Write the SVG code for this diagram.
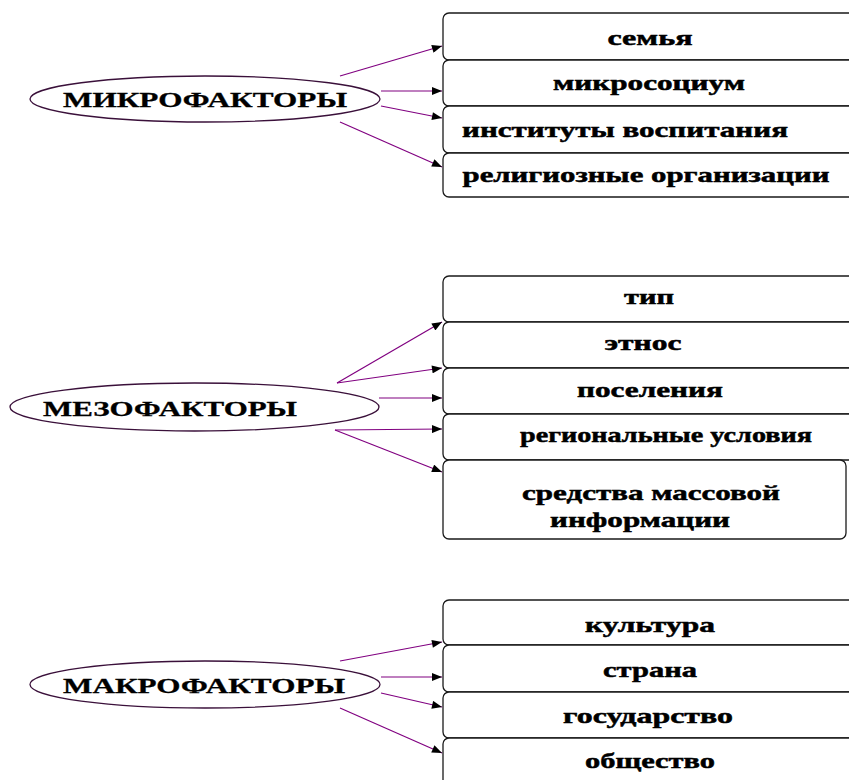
<svg xmlns="http://www.w3.org/2000/svg" width="849" height="780" viewBox="0 0 849 780">
<style>
.box{fill:#fff;stroke:#1a1a1a;stroke-width:1.3}
.ell{fill:#fff;stroke:#3a103a;stroke-width:1.3}
.t{font-family:"Liberation Serif","Times New Roman",serif;font-weight:bold;font-size:22px;fill:#000;stroke:#000;stroke-width:0.5;text-anchor:middle}
.h{font-family:"Liberation Serif","Times New Roman",serif;font-weight:bold;font-size:22px;fill:#000;stroke:#000;stroke-width:0.3;text-anchor:middle}
.c{stroke:#800080;stroke-width:1.2;fill:none;marker-end:url(#ah)}
</style>
<defs>
<marker id="ah" viewBox="0 0 10 8" refX="10" refY="4" markerWidth="11" markerHeight="8" markerUnits="userSpaceOnUse" orient="auto">
<path d="M0,0 L10,4 L0,8 Z" fill="#000"/>
</marker>
</defs>
<rect width="849" height="780" fill="#fff"/>

<g id="micro">
<g id="micro-center"><ellipse class="ell" cx="205" cy="99" rx="175" ry="23"/><text class="h" x="205" y="107" textLength="284" lengthAdjust="spacingAndGlyphs">МИКРОФАКТОРЫ</text></g>
<g id="m1"><rect class="box" x="443" y="13" width="412" height="47" rx="6"/><text class="t" x="650" y="45" textLength="85" lengthAdjust="spacingAndGlyphs">семья</text></g>
<g id="m2"><rect class="box" x="443" y="60" width="412" height="46" rx="6"/><text class="t" x="649" y="90" textLength="192" lengthAdjust="spacingAndGlyphs">микросоциум</text></g>
<g id="m3"><rect class="box" x="443" y="106" width="412" height="47" rx="6"/><text class="t" x="625" y="137" textLength="326" lengthAdjust="spacingAndGlyphs">институты воспитания</text></g>
<g id="m4"><rect class="box" x="443" y="153" width="412" height="44" rx="6"/><text class="t" x="646" y="182" textLength="367" lengthAdjust="spacingAndGlyphs">религиозные организации</text></g>
</g>

<g id="meso">
<g id="meso-center"><ellipse class="ell" cx="194.5" cy="407" rx="184.5" ry="24"/><text class="h" x="170" y="416" textLength="254" lengthAdjust="spacingAndGlyphs">МЕЗОФАКТОРЫ</text></g>
<g id="s1"><rect class="box" x="443" y="276" width="412" height="46" rx="6"/><text class="t" x="649" y="304" textLength="50" lengthAdjust="spacingAndGlyphs">тип</text></g>
<g id="s2"><rect class="box" x="443" y="322" width="412" height="46" rx="6"/><text class="t" x="643" y="350" textLength="77" lengthAdjust="spacingAndGlyphs">этнос</text></g>
<g id="s3"><rect class="box" x="443" y="368" width="412" height="46" rx="6"/><text class="t" x="650" y="397" textLength="146" lengthAdjust="spacingAndGlyphs">поселения</text></g>
<g id="s4"><rect class="box" x="443" y="414" width="412" height="46" rx="6"/><text class="t" x="666" y="442" textLength="292" lengthAdjust="spacingAndGlyphs">региональные условия</text></g>
<g id="s5"><rect class="box" x="443" y="460" width="403" height="79" rx="6"/><text class="t" x="651" y="500" textLength="258" lengthAdjust="spacingAndGlyphs">средства массовой</text><text class="t" x="640" y="527" textLength="180" lengthAdjust="spacingAndGlyphs">информации</text></g>
</g>

<g id="macro">
<g id="macro-center"><ellipse class="ell" cx="205" cy="684.5" rx="175" ry="23.5"/><text class="h" x="204" y="693" textLength="282" lengthAdjust="spacingAndGlyphs">МАКРОФАКТОРЫ</text></g>
<g id="k1"><rect class="box" x="443" y="600" width="412" height="45" rx="6"/><text class="t" x="650" y="632" textLength="130" lengthAdjust="spacingAndGlyphs">культура</text></g>
<g id="k2"><rect class="box" x="443" y="645" width="412" height="47" rx="6"/><text class="t" x="650" y="677" textLength="94" lengthAdjust="spacingAndGlyphs">страна</text></g>
<g id="k3"><rect class="box" x="443" y="692" width="412" height="46" rx="6"/><text class="t" x="648" y="723" textLength="170" lengthAdjust="spacingAndGlyphs">государство</text></g>
<g id="k4"><rect class="box" x="443" y="738" width="412" height="60" rx="6"/><text class="t" x="650" y="768" textLength="130" lengthAdjust="spacingAndGlyphs">общество</text></g>
</g>

<g id="connectors">
<line class="c" x1="340" y1="76" x2="442" y2="46"/>
<line class="c" x1="381" y1="91" x2="442" y2="91"/>
<line class="c" x1="381" y1="106" x2="442" y2="118"/>
<line class="c" x1="340" y1="122" x2="442" y2="167"/>

<line class="c" x1="337" y1="383" x2="442" y2="322"/>
<line class="c" x1="337" y1="383" x2="442" y2="368"/>
<line class="c" x1="379" y1="398" x2="442" y2="398"/>
<line class="c" x1="335" y1="430" x2="442" y2="429"/>
<line class="c" x1="335" y1="430" x2="442" y2="472"/>

<line class="c" x1="340" y1="661" x2="442" y2="642"/>
<line class="c" x1="381" y1="677" x2="442" y2="677"/>
<line class="c" x1="381" y1="693" x2="442" y2="707"/>
<line class="c" x1="340" y1="708" x2="442" y2="753"/>
</g>
</svg>
